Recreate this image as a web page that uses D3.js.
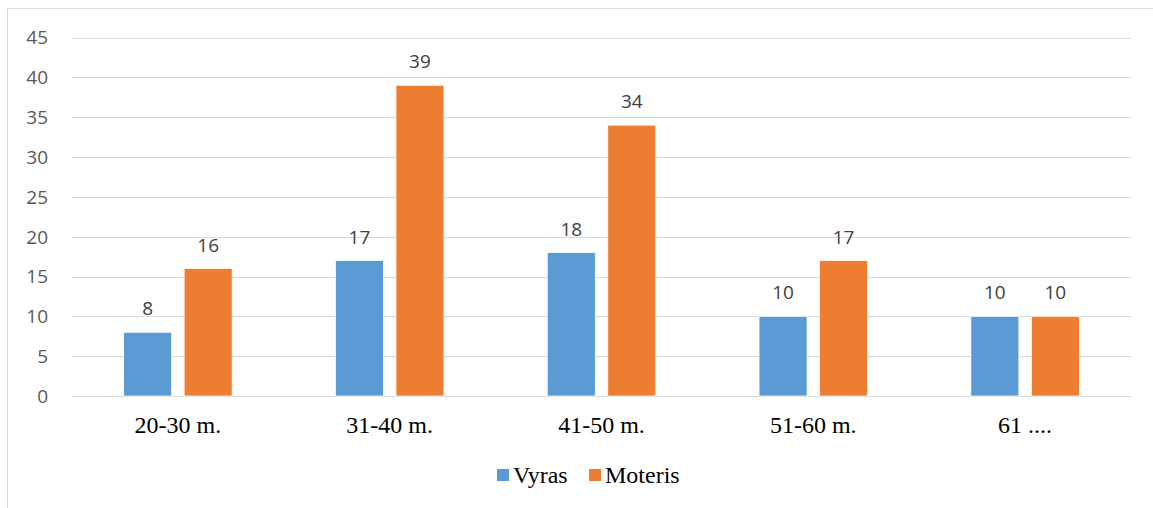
<!DOCTYPE html>
<html><head><meta charset="utf-8">
<script src="https://cdn.jsdelivr.net/npm/d3@7"></script>
<style>body{margin:0;background:#fff}svg{display:block}</style>
</head><body>
<script>
const categories = ["20-30 m.", "31-40 m.", "41-50 m.", "51-60 m.", "61 ...."];
const seriesNames = ["Vyras", "Moteris"];
const vyras = [8, 17, 18, 10, 10];
const moteris = [16, 39, 34, 17, 10];
const yTicks = [0, 5, 10, 15, 20, 25, 30, 35, 40, 45];
const colors = ["#5B9BD5", "#ED7D31"];

const W = 1153, H = 508;
const svg = d3.select("body").append("svg").attr("width", W).attr("height", H);

svg.append("rect").attr("x", 7.5).attr("y", 8.5).attr("width", 1200).attr("height", 600)
  .attr("fill", "none").attr("stroke", "#D9D9D9").attr("stroke-width", 1);

const pLeft = 72, pRight = 1131, pTop = 37.5, pBottom = 396;
const x = d3.scaleBand().domain(categories).range([pLeft, pRight]);
const y = d3.scaleLinear().domain([0, 45]).range([pBottom, pTop]);

// gridlines
svg.append("g").selectAll("line").data(yTicks).join("line")
  .attr("x1", pLeft).attr("x2", pRight)
  .attr("y1", d => Math.round(y(d)) + 0.5).attr("y2", d => Math.round(y(d)) + 0.5)
  .attr("stroke", "#D9D9D9").attr("stroke-width", 1);

// y tick labels
svg.append("g").selectAll("text").data(yTicks).join("text")
  .attr("x", 48).attr("y", d => y(d)).attr("dy", "0.36em")
  .attr("text-anchor", "end")
  .attr("font-family", "'Open Sans', sans-serif").attr("font-size", 19)
  .attr("fill", "#595959").text(d => d);

const barW = 48, gap = 12.5;
const data = [];
categories.forEach((c, i) => {
  [vyras[i], moteris[i]].forEach((v, s) => data.push({c, v, s}));
});
const cx = c => x(c) + x.bandwidth() / 2;

svg.append("g").selectAll("rect").data(data).join("rect")
  .attr("x", d => d.s === 0 ? cx(d.c) - gap / 2 - barW : cx(d.c) + gap / 2)
  .attr("y", d => y(d.v)).attr("width", barW).attr("height", d => y(0) - y(d.v))
  .attr("fill", d => colors[d.s]).attr("stroke", "#fff").attr("stroke-width", 0.75);

svg.append("g").selectAll("text").data(data).join("text")
  .attr("x", d => d.s === 0 ? cx(d.c) - gap / 2 - barW / 2 : cx(d.c) + gap / 2 + barW / 2)
  .attr("y", d => y(d.v) - 17)
  .attr("text-anchor", "middle")
  .attr("font-family", "'Open Sans', sans-serif").attr("font-size", 19)
  .attr("fill", "#404040").text(d => d.v);

// category labels
svg.append("g").selectAll("text").data(categories).join("text")
  .attr("x", d => cx(d)).attr("y", 433)
  .attr("text-anchor", "middle")
  .attr("font-family", "'Liberation Serif', 'Times New Roman', serif").attr("font-size", 24)
  .attr("fill", "#000").text(d => d);

// legend
const legendX = [497, 589];
const lg = svg.append("g");
seriesNames.forEach((n, i) => {
  lg.append("rect").attr("x", legendX[i]).attr("y", 469).attr("width", 12).attr("height", 12)
    .attr("fill", colors[i]);
  lg.append("text").attr("x", legendX[i] + 16).attr("y", 483)
    .attr("font-family", "'Liberation Serif', 'Times New Roman', serif").attr("font-size", 24)
    .attr("fill", "#000").text(n);
});
</script>
</body></html>
